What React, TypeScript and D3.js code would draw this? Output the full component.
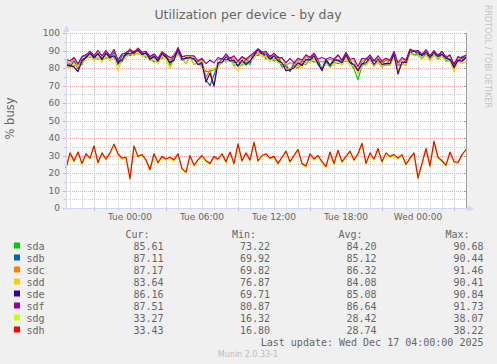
import React from "react";
import * as d3 from "d3";

// Munin "diskstats utilization" day graph, 20 minute samples
const devices = ["sda", "sdb", "sdc", "sdd", "sde", "sdf", "sdg", "sdh"];
const colors = ["#00CC00", "#0066B3", "#FF8000", "#FFCC00", "#330099", "#990099", "#CCFF00", "#FF0000"];

const sda = [80, 82, 81, 82, 82, 87, 86, 86.5, 85, 86, 85.5, 86.5, 86, 82.5, 83.5, 88, 87, 88.5, 88, 88.5, 86, 86, 83.5, 85, 85.5, 87, 81.5, 85.5, 87.5, 85.5, 82.5, 86.5, 82, 83, 80.5, 78, 78, 79, 80.5, 84, 83.5, 84.5, 81.5, 82, 81.5, 83.5, 82, 87.5, 87, 89, 85, 86, 84, 85, 80.5, 81, 78.5, 81.5, 80, 82.5, 82, 85, 83.5, 83.5, 79, 83.5, 80.5, 83.5, 82.5, 83.5, 84, 83.5, 79.5, 73.22, 81.5, 82, 84.5, 81, 83.5, 80.5, 82, 81.5, 86.5, 78.5, 82.5, 81.5, 89, 87.5, 88, 85.5, 88, 84.5, 88, 85, 87.5, 84, 85, 79.5, 84.5, 83.5, 85.61];
const sdb = [83, 80.5, 84, 79.5, 85, 86, 88.5, 85.5, 88.5, 84.5, 88.5, 85.5, 89, 82, 87, 87, 90, 88, 90.44, 87.5, 88.5, 85, 87, 84, 88.5, 86, 83, 87, 89, 84.5, 86, 85.5, 85.5, 82, 83.5, 73, 69.92, 76, 82, 85.5, 84.5, 86, 83, 83.5, 82.5, 85, 83, 89, 88, 89.5, 86, 87, 85, 86.5, 82, 81.5, 78, 83, 81.5, 84, 83.5, 86.5, 85, 84.5, 79.5, 85, 82, 85, 84, 85, 85.5, 84.5, 81, 79, 81, 85.5, 84, 84.5, 83, 84, 81.5, 85, 86, 81.5, 82, 85, 88, 90.2, 87, 88.5, 87, 87.5, 87, 88, 86.5, 87, 84, 83, 83.5, 86.5, 87.11];
const sdc = [84.5, 82, 85.5, 81.5, 86.5, 87.5, 89.5, 87, 90, 86.5, 89.5, 87, 90.5, 84, 88, 88.5, 91, 89, 91.46, 89, 89.5, 86.5, 88, 85.5, 89.5, 87.5, 84.5, 88, 90, 86, 87, 87, 86.5, 83.5, 85, 74.5, 79, 69.82, 85, 84.5, 88, 85, 86, 83, 86, 84, 86, 88, 90.5, 89, 88.5, 86, 88, 85.5, 85.5, 81.5, 83, 82, 84.5, 83, 86.5, 85.5, 88, 84, 83.5, 84, 85, 84, 87, 84, 88.5, 84, 84, 78.5, 84, 84.5, 87, 84, 86, 83, 84.5, 84, 89, 81.5, 85, 84, 91, 89.5, 90, 87.5, 90, 86.5, 90, 87, 89.5, 86, 87, 81.5, 86, 85, 87.17];
const sdd = [81.5, 80, 82.5, 80.5, 83.5, 84.5, 87.5, 84, 86.5, 83.5, 87, 84, 87.5, 78.5, 85, 85.5, 88.5, 87, 89.5, 86.5, 87.5, 84, 85.5, 82.5, 87, 85, 79.5, 85, 87.5, 85.5, 82.5, 86, 82, 83, 80, 79, 79, 80, 80.5, 84, 83.5, 84.5, 81, 78.5, 83, 81.5, 84, 85.5, 89, 86.5, 86.5, 83.5, 85.5, 83, 82.5, 78.5, 80, 79.5, 82, 80.5, 84, 83, 85.5, 81.5, 81, 81.5, 82.5, 81.5, 84.5, 81.5, 86, 81, 81.5, 76.87, 81.5, 81.5, 84.5, 81, 83.5, 80.5, 82, 81.5, 86.5, 79, 82.5, 81.5, 88.5, 87, 87.5, 85, 87.5, 84, 87.5, 84.5, 87, 83.5, 84, 78, 83.5, 82.5, 83.64];
const sde = [81.5, 81.5, 80.5, 78, 84, 86, 88.5, 86, 88, 85, 88.5, 86, 87, 83.5, 84.5, 88.5, 88, 89.5, 90, 88, 88.5, 85, 86.5, 84, 88, 86.5, 83, 84.5, 90.84, 85, 85.5, 86, 85, 82, 82.5, 72, 77, 69.71, 83, 83, 86.5, 84, 84.5, 81, 84.5, 82, 84, 87, 90.5, 88, 88, 85, 87, 84, 83, 78.5, 79, 80, 83, 81.5, 85, 84.5, 87, 82.5, 78.5, 84.5, 81.5, 84.5, 84.5, 83, 87.5, 83, 82, 78.5, 82.5, 83, 86, 82, 85, 82, 82.5, 82.5, 88, 76.5, 83.5, 83, 90, 89.5, 89, 87, 89, 86, 89, 86.5, 88, 85.5, 85, 80.5, 84.5, 84, 86.16];
const sdf = [85, 84, 86, 82.5, 86.5, 87.5, 89.5, 87, 90, 87, 90, 87, 90.5, 84.5, 88, 88.5, 90.5, 88.5, 91.2, 89, 89.5, 86.5, 88, 85.5, 89, 87.5, 86, 86.5, 91.73, 86.5, 87, 87, 87, 84, 85.5, 82.5, 84.5, 83, 86, 85, 88, 85.5, 87, 84, 86.5, 85, 87, 88.5, 91, 89, 89.5, 86.5, 88.5, 86, 86, 83, 85.5, 83, 85.5, 84.5, 87.5, 86, 88.5, 85, 86, 85, 86, 85, 87.5, 84.5, 89, 85, 85.5, 80.87, 85.5, 85, 87.5, 84, 87, 84, 85.5, 84.5, 89.5, 83, 86, 84.5, 90.5, 89.5, 90, 87.5, 90.5, 87, 90, 87, 89.5, 86, 87.5, 82, 86.5, 85.5, 87.51];
const sdg = [22.0, 30.8, 26.2, 31.5, 24.6, 30.5, 27.8, 35.0, 25.2, 31.0, 27.3, 31.0, 36.0, 30.4, 27.6, 28.5, 16.32, 35.0, 28.7, 30.0, 26.8, 21.3, 30.5, 25.2, 29.0, 27.2, 28.4, 26.7, 30.5, 21.8, 20.0, 29.4, 23.7, 26.9, 29.5, 26.2, 24.8, 29.0, 27.3, 30.5, 25.7, 31.5, 24.7, 36.1, 26.3, 31.0, 26.7, 38.07, 26.2, 29.4, 30.5, 27.8, 29.0, 24.7, 28.3, 32.0, 25.8, 29.4, 33.0, 24.7, 23.2, 30.5, 27.3, 29.5, 25.7, 23.0, 31.5, 24.8, 32.5, 25.8, 28.8, 32.0, 26.7, 30.4, 36.5, 24.8, 31.0, 27.2, 33.5, 25.7, 31.0, 28.8, 30.0, 27.7, 30.0, 24.3, 27.8, 31.0, 16.5, 24.8, 33.4, 23.3, 37.6, 28.4, 26.3, 23.8, 31.4, 25.8, 25.3, 30.0, 33.27];
const sdh = [22.7, 31.5, 27.0, 32.0, 25.5, 31.0, 28.5, 35.5, 26.0, 31.5, 28.0, 31.5, 36.5, 31.0, 28.5, 29.0, 16.8, 35.5, 29.5, 30.5, 27.5, 22.0, 31.0, 26.0, 29.5, 28.0, 29.0, 27.5, 31.0, 22.5, 20.5, 30.0, 24.5, 27.5, 30.0, 27.0, 25.5, 29.5, 28.0, 31.0, 26.5, 32.0, 25.5, 36.6, 27.0, 31.5, 27.4, 37.5, 27.0, 30.0, 31.0, 28.5, 29.5, 25.5, 29.0, 32.5, 26.5, 30.0, 33.5, 25.5, 24.0, 31.0, 28.0, 30.0, 26.5, 23.8, 32.0, 25.5, 33.0, 26.5, 29.5, 32.5, 27.5, 31.0, 37.0, 25.5, 31.5, 28.0, 34.0, 26.5, 31.5, 29.5, 30.5, 28.5, 30.5, 25.0, 28.5, 31.5, 17.2, 25.5, 34.0, 24.0, 38.22, 29.0, 27.0, 24.5, 32.0, 26.5, 26.0, 30.5, 33.43];
const series = [sda, sdb, sdc, sdd, sde, sdf, sdg, sdh];

const curVals = ["85.61", "87.11", "87.17", "83.64", "86.16", "87.51", "33.27", "33.43"];
const minVals = ["73.22", "69.92", "69.82", "76.87", "69.71", "80.87", "16.32", "16.80"];
const avgVals = ["84.20", "85.12", "86.32", "84.08", "85.08", "86.64", "28.42", "28.74"];
const maxVals = ["90.68", "90.44", "91.46", "90.41", "90.84", "91.73", "38.07", "38.22"];

const yTicks = [0, 10, 20, 30, 40, 50, 60, 70, 80, 90, 100];
const yMinor = [5, 15, 25, 35, 45, 55, 65, 75, 85, 95];

const end = new Date(2025, 11, 17, 4, 0, 0);
const start = new Date(end.getTime() - 400 * 5 * 60 * 1000);
const STEP = 20 * 60 * 1000;
const times = sdh.map((_, i) => new Date(start.getTime() + i * STEP));

const W = 497;
const H = 364;
const X0 = 66;
const X1 = 466;
const Y0 = 208;
const Y1 = 33;

const sans = "'DejaVu Sans', sans-serif";
const mono = "'DejaVu Sans Mono', monospace";
const FONT = "#666666";
const AXIS = "#CFD6F8";
const GRID = "#cdcdcd";
const MGRID = "#f0a8a8";

export default function App() {
  const x = d3.scaleTime().domain([start, end]).range([X0, X1]);
  const y = d3.scaleLinear().domain([0, 100]).range([Y0, Y1]);

  const line = d3
    .line<number>()
    .x((_, i) => x(times[i]))
    .y((d) => y(d));

  const hours = d3.timeHour.every(1)!.range(start, new Date(end.getTime() + 1));
  const minorHours = hours.filter((h) => h.getHours() % 6 !== 3);
  const majorHours = hours.filter((h) => h.getHours() % 6 === 3);
  const labelHours = hours.filter((h) => h.getHours() % 6 === 0);
  const fmt = d3.timeFormat("%a %H:%M");

  const px = (v: number) => Math.round(v) + 0.5;

  return (
    <svg width={W} height={H} style={{ position: "absolute", left: 0, top: 0 }}>
      <rect x={0} y={0} width={W} height={H} fill="#F0F0F0" />
      <rect x={X0} y={31} width={X1 - X0} height={Y0 - 31} fill="#FFFFFF" />

      <text x={248} y={18.5} textAnchor="middle" fontFamily={sans} fontSize={12.5} fill={FONT}>
        Utilization per device - by day
      </text>
      <text
        transform="translate(14,118.5) rotate(-90)"
        textAnchor="middle"
        fontFamily={sans}
        fontSize={11.5}
        fill={FONT}
      >
        % busy
      </text>
      <text transform="translate(485,5) rotate(90)" fontFamily={sans} fontSize={8} fill="#c4c4c4">
        RRDTOOL / TOBI OETIKER
      </text>

      {/* minor grid */}
      <g stroke={GRID} strokeWidth={1} strokeDasharray="1,1">
        {yMinor.map((v) => (
          <line key={"ym" + v} x1={X0} x2={X1} y1={px(y(v))} y2={px(y(v))} />
        ))}
        {minorHours.map((h) => (
          <line key={"xm" + h.getTime()} x1={px(x(h))} x2={px(x(h))} y1={Y1} y2={Y0} />
        ))}
      </g>
      <g stroke={GRID} strokeWidth={1}>
        {yMinor.map((v) => (
          <line key={"ymt" + v} x1={X0 - 2} x2={X0} y1={px(y(v))} y2={px(y(v))} />
        ))}
        {minorHours.map((h) => (
          <line key={"xmt" + h.getTime()} x1={px(x(h))} x2={px(x(h))} y1={Y0} y2={Y0 + 2} />
        ))}
      </g>
      {/* major grid */}
      <g stroke={MGRID} strokeWidth={1} strokeDasharray="1,1">
        {yTicks.slice(1).map((v) => (
          <line key={"yM" + v} x1={X0} x2={X1} y1={px(y(v))} y2={px(y(v))} />
        ))}
        {majorHours.map((h) => (
          <line key={"xM" + h.getTime()} x1={px(x(h))} x2={px(x(h))} y1={Y1} y2={Y0} />
        ))}
      </g>
      <g stroke={MGRID} strokeWidth={1}>
        {yTicks.map((v) => (
          <line key={"yMt" + v} x1={X0 - 3} x2={X0} y1={px(y(v))} y2={px(y(v))} />
        ))}
        {majorHours.map((h) => (
          <line key={"xMt" + h.getTime()} x1={px(x(h))} x2={px(x(h))} y1={Y0} y2={Y0 + 3} />
        ))}
      </g>

      {/* y labels */}
      {yTicks.map((v) => (
        <text key={"yl" + v} x={60} y={y(v) + 3.3} textAnchor="end" fontFamily={sans} fontSize={9} fill={FONT}>
          {v}
        </text>
      ))}
      {/* x labels */}
      {labelHours.map((h) => (
        <text key={"xl" + h.getTime()} x={x(h)} y={220} textAnchor="middle" fontFamily={sans} fontSize={9} fill={FONT}>
          {fmt(h)}
        </text>
      ))}

      {/* data */}
      {series.map((s, k) => (
        <path key={devices[k]} d={line(s) || ""} fill="none" stroke={colors[k]} strokeWidth={1.2} strokeLinejoin="round" />
      ))}

      {/* right frame */}
      <line x1={X1 + 0.5} x2={X1 + 0.5} y1={Y1} y2={Y0} stroke="#a0a0a0" strokeWidth={1} />
      {yTicks.map((v) => (
        <line key={"rt" + v} x1={X1 - 2} x2={X1} y1={px(y(v))} y2={px(y(v))} stroke="#a0a0a0" />
      ))}

      {/* axes with arrows */}
      <line x1={X0 + 0.5} x2={X0 + 0.5} y1={Y0 + 2} y2={29} stroke={AXIS} strokeWidth={1} />
      <path d={`M${X0 - 2.5},${32} L${X0 + 0.5},${25} L${X0 + 3.5},${32} Z`} fill={AXIS} />
      <line x1={X0 - 2} x2={X1 + 4} y1={Y0 + 0.5} y2={Y0 + 0.5} stroke={AXIS} strokeWidth={1} />
      <path d={`M${X1 + 2},${Y0 - 2.5} L${X1 + 8},${Y0 + 0.5} L${X1 + 2},${Y0 + 3.5} Z`} fill={AXIS} />

      {/* legend */}
      <g fontFamily={mono} fontSize={10} fill={FONT}>
        <text x={149.5} y={237.5} textAnchor="end">Cur:</text>
        <text x={256} y={237.5} textAnchor="end">Min:</text>
        <text x={362.5} y={237.5} textAnchor="end">Avg:</text>
        <text x={469.5} y={237.5} textAnchor="end">Max:</text>
        {devices.map((d, k) => {
          const by = 249.5 + k * 12;
          return (
            <g key={"lg" + d}>
              <rect x={14} y={by - 7} width={6} height={6} fill={colors[k]} />
              <text x={26.5} y={by}>{d}</text>
              <text x={163.5} y={by} textAnchor="end">{curVals[k]}</text>
              <text x={270} y={by} textAnchor="end">{minVals[k]}</text>
              <text x={376.5} y={by} textAnchor="end">{avgVals[k]}</text>
              <text x={483.5} y={by} textAnchor="end">{maxVals[k]}</text>
            </g>
          );
        })}
        <text x={483.5} y={345.5} textAnchor="end">Last update: Wed Dec 17 04:00:00 2025</text>
      </g>
      <text x={248} y={357} textAnchor="middle" fontFamily={sans} fontSize={8} fill="#bdbdbd">
        Munin 2.0.33-1
      </text>
    </svg>
  );
}
